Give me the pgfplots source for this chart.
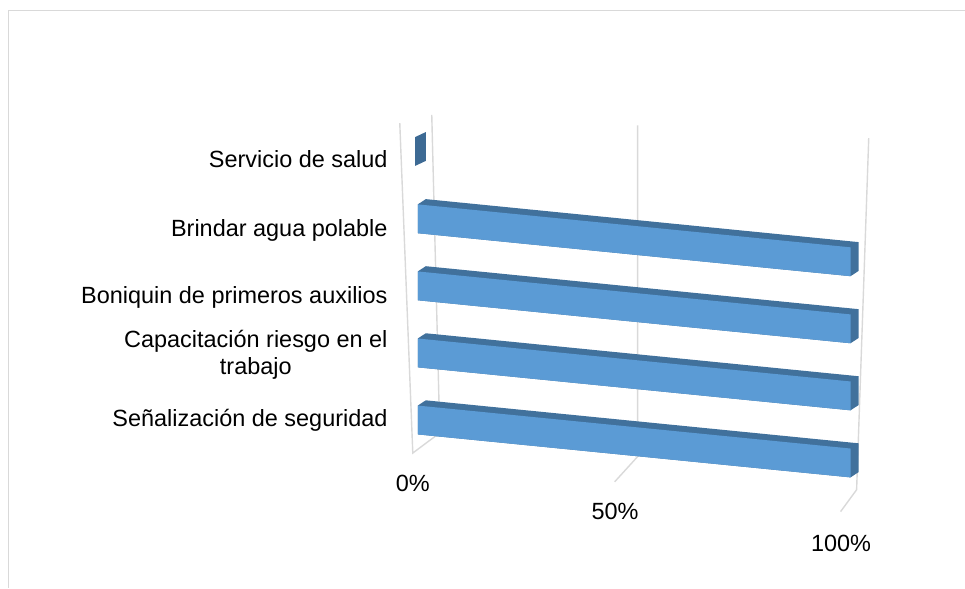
\documentclass[border=0pt]{standalone}
\usepackage{pgfplots}
\pgfplotsset{compat=1.18}
\usepackage{fontspec}
\setmainfont{Liberation Sans}
\usetikzlibrary{calc}
\definecolor{barfront}{HTML}{5B9BD5}
\definecolor{bardark}{HTML}{41719C}
\definecolor{bartip}{HTML}{3D6A94}
\definecolor{gridc}{HTML}{D9D9D9}
\newcommand{\lblfont}{\fontsize{17.6}{20.25}\selectfont}
\begin{document}
\begin{tikzpicture}
\begin{axis}[
  x={(3.2475pt,-0.3225pt)}, y={(0pt,50.325pt)},
  xmin=-6.93, xmax=110, ymin=-1.3, ymax=4.9,
  clip=false,
  axis line style={draw=none},
  major tick length=0pt,
  xtick=\empty,
  ytick={-0.056,0.934,1.784,2.775,3.841},
  yticklabels={Señalización de seguridad,{Capacitación riesgo en el\\trabajo},Boniquin de primeros auxilios,Brindar agua polable,Servicio de salud},
  yticklabel style={anchor=east, inner sep=0pt, align=center, font=\lblfont, text=black},
]
% walls / gridlines (back wall, floor, left wall edge)
\addplot[gridc, line width=1.05pt, mark=none] coordinates {(3.23,4.57) (5.08,-0.16) (-1.15,-0.50) (-4.16,4.40)};
\addplot[gridc, line width=1.05pt, mark=none] coordinates {(50.8,4.72) (50.8,-0.22) (45.5,-0.63)};
\addplot[gridc, line width=1.05pt, mark=none] coordinates {(104.2,4.87) (101.4,-0.39) (97.7,-0.74)};
% Señalización de seguridad = 100
\addplot[fill=bardark, draw=none] coordinates {(0,-0.215) (100,-0.215) (101.85,-0.125) (101.85,0.305) (1.85,0.305) (0,0.215)};
\addplot[fill=barfront, draw=none] coordinates {(0,-0.215) (100,-0.215) (100,0.215) (0,0.215)};
% Capacitación riesgo en el trabajo = 100
\addplot[fill=bardark, draw=none] coordinates {(0,0.785) (100,0.785) (101.85,0.875) (101.85,1.305) (1.85,1.305) (0,1.215)};
\addplot[fill=barfront, draw=none] coordinates {(0,0.785) (100,0.785) (100,1.215) (0,1.215)};
% Boniquin de primeros auxilios = 100
\addplot[fill=bardark, draw=none] coordinates {(0,1.785) (100,1.785) (101.85,1.875) (101.85,2.305) (1.85,2.305) (0,2.215)};
\addplot[fill=barfront, draw=none] coordinates {(0,1.785) (100,1.785) (100,2.215) (0,2.215)};
% Brindar agua polable = 100
\addplot[fill=bardark, draw=none] coordinates {(0,2.785) (100,2.785) (101.85,2.875) (101.85,3.305) (1.85,3.305) (0,3.215)};
\addplot[fill=barfront, draw=none] coordinates {(0,2.785) (100,2.785) (100,3.215) (0,3.215)};
% Servicio de salud = 0 (only the end face shows)
\addplot[fill=bartip, draw=none] coordinates {(-0.6,3.785) (1.85,3.875) (1.85,4.305) (-0.6,4.215)};
% value axis labels
\node[font=\lblfont] at (axis cs:-1.155,-0.951) {0\%};
\node[font=\lblfont] at (axis cs:45.6,-1.076) {50\%};
\node[font=\lblfont] at (axis cs:97.8,-1.211) {100\%};
\coordinate (O) at (axis cs:0,0);
\end{axis}
\path ($(O)+(-313.5pt,-125.85pt)$) rectangle ($(O)+(410.25pt,315.15pt)$);
\draw[gridc, line width=0.75pt] ($(O)+(-306.75pt,-125.85pt)$) -- ($(O)+(-306.75pt,306.9pt)$) -- ($(O)+(410.25pt,306.9pt)$);
\end{tikzpicture}
\end{document}
